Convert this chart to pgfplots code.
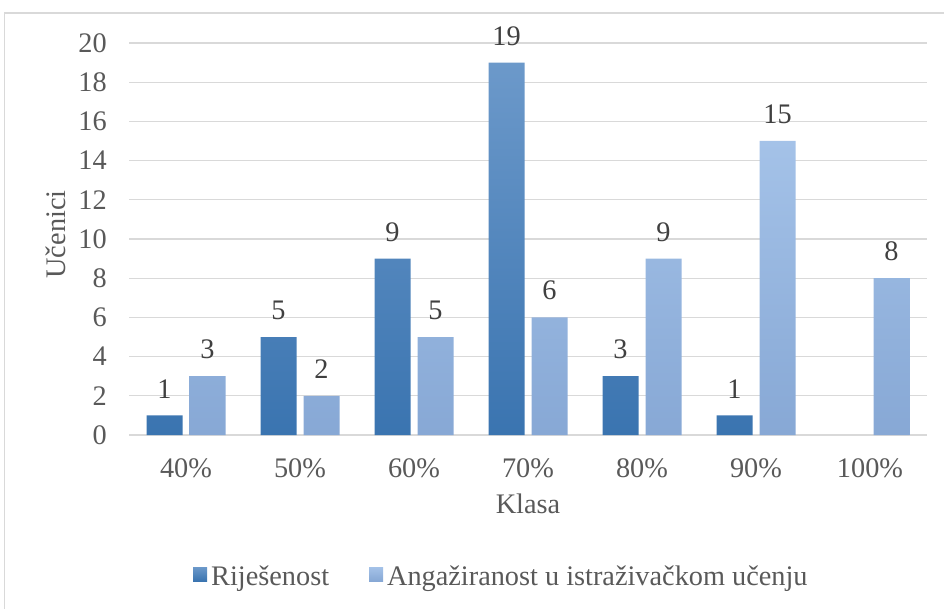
\documentclass[border=0pt]{standalone}
\usepackage{fontspec}
\setmainfont{Liberation Serif}
\usepackage{pgfplots}
\pgfplotsset{compat=1.18}
\definecolor{txt}{HTML}{595959}
\definecolor{lbl}{HTML}{404040}
\definecolor{gridc}{HTML}{D9D9D9}
\definecolor{dtop}{HTML}{6C99CA}
\definecolor{dbot}{HTML}{3A74B0}
\definecolor{ltop}{HTML}{A4C2E8}
\definecolor{lbot}{HTML}{87A8D5}
\newcommand{\fs}{\fontsize{28.3}{34}\selectfont}
\begin{document}
\begin{tikzpicture}
\useasboundingbox (0pt,0pt) rectangle (944pt,608pt);
\draw[gridc, line width=1.5pt] (4.5pt,-10pt) rectangle (960pt,595pt);
\begin{axis}[
  at={(186pt,173pt)}, anchor=origin,
  x=114pt, y=19.6pt,
  xmin=-0.5, xmax=6.5, ymin=0, ymax=20,
  clip=false,
  ybar=7pt, bar width=36pt,
  axis line style={draw=none},
  major tick length=0pt,
  ymajorgrids, grid style={gridc, line width=1.3pt},
  ytick={0,2,...,20},
  xtick={0,1,2,3,4,5,6},
  xticklabels={40\%,50\%,60\%,70\%,80\%,90\%,100\%},
  /pgf/number format/assume math mode=true,
  ticklabel style={font=\fs, text=txt},
  xticklabel style={anchor=base, inner sep=0pt, yshift=-42pt},
  yticklabel style={anchor=east, inner sep=0pt, xshift=-22pt},
  xlabel={Klasa}, ylabel={Učenici},
  x label style={at={(axis description cs:0.5,-0.2015)}, anchor=base, inner sep=0pt, font=\fs, text=txt},
  y label style={at={(axis description cs:-0.0802,0.5115)}, anchor=base, inner sep=0pt, font=\fs, text=txt},
  nodes near coords,
  every node near coord/.append style={font=\fs, text=lbl, anchor=south, inner sep=0pt, yshift=17pt},
  legend image code/.code={\fill[#1] (0pt,-5pt) rectangle (14pt,9pt);},
  legend columns=2,
  legend style={at={(axis description cs:0.0802,-0.3597)}, anchor=west, draw=none, fill=none,
    inner sep=0pt, font=\fs, text=txt, column sep=2pt,
    /tikz/every even column/.append style={column sep=38pt}},
]
\addplot[draw=none, top color=dtop, bottom color=dbot] coordinates {(0,1)(1,5)(2,9)(3,19)(4,3)(5,1)};
\addlegendentry{Riješenost}
\addplot[draw=none, top color=ltop, bottom color=lbot] coordinates {(0,3)(1,2)(2,5)(3,6)(4,9)(5,15)(6,8)};
\addlegendentry{Angažiranost u istraživačkom učenju}
\end{axis}
\end{tikzpicture}
\end{document}
